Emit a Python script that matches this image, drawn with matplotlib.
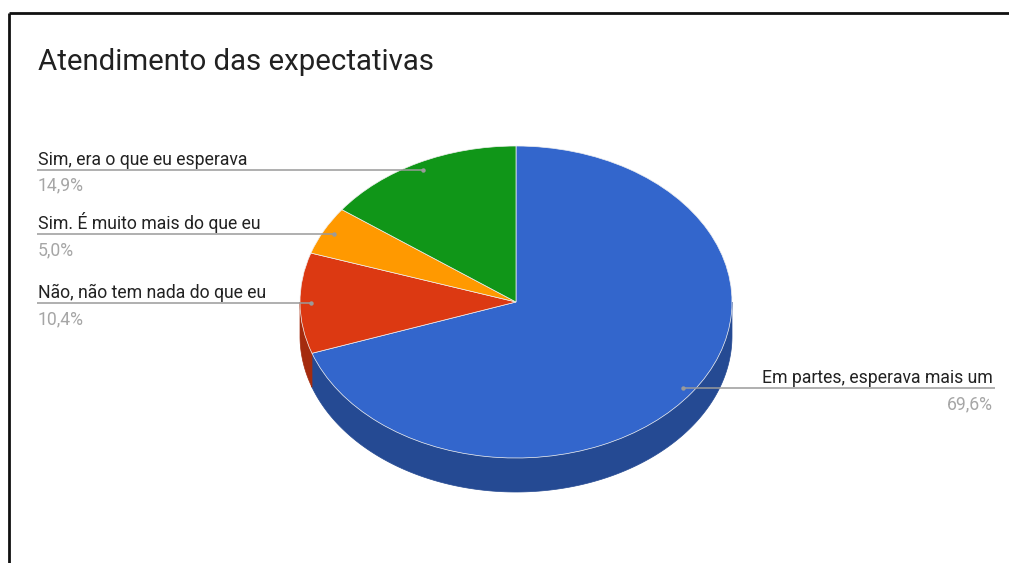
import numpy as np
import matplotlib
matplotlib.use("Agg")
import matplotlib.pyplot as plt
from matplotlib.patches import Polygon

# Survey answers, clockwise from 12 o'clock
labels = [
    "Em partes, esperava mais um",
    "Não, não tem nada do que eu",
    "Sim. É muito mais do que eu",
    "Sim, era o que eu esperava",
]
shares = [69.6, 10.4, 5.0, 14.9]
pct_labels = ["69,6%", "10,4%", "5,0%", "14,9%"]
top_colors = ["#3366cc", "#dc3912", "#ff9900", "#109618"]
side_colors = ["#254a93", "#a42b0e", "#bf7300", "#0c7112"]
title = "Atendimento das expectativas"

W, H = 1009, 563
fig = plt.figure(figsize=(W / 100, H / 100), dpi=100)
fig.patch.set_facecolor("white")

# Ellipse geometry of the tilted pie (pixels, origin top-left)
CX, CY = 516, 302
RX, RY = 216, 156
DEPTH = 34
d = DEPTH / RY

xl = (-1.1, 1.1)
yl = (-1.4, 1.1)
left = CX + xl[0] * RX
width = (xl[1] - xl[0]) * RX
bottom = (H - CY) + yl[0] * RY
height = (yl[1] - yl[0]) * RY
ax = fig.add_axes([left / W, bottom / H, width / W, height / H])

fracs = np.array(shares) / sum(shares)
bounds = np.concatenate([[0], np.cumsum(fracs)]) * 360.0  # degrees clockwise from top

# Visible rim of each slice (front half of the disc)
for i, (a0, a1) in enumerate(zip(bounds[:-1], bounds[1:])):
    lo, hi = max(a0, 90.0), min(a1, 270.0)
    if hi > lo:
        t = np.radians(np.linspace(lo, hi, 200))
        xs, ys = np.sin(t), np.cos(t)
        poly = np.column_stack([np.r_[xs, xs[::-1]], np.r_[ys, ys[::-1] - d]])
        ax.add_patch(Polygon(poly, closed=True, facecolor=side_colors[i],
                             edgecolor=side_colors[i], linewidth=0.5))

ax.pie(shares, colors=top_colors, startangle=90, counterclock=False,
       radius=1.0, center=(0, 0),
       wedgeprops=dict(edgecolor="#f0f0f0", linewidth=0.5))
ax.set_aspect("auto")
ax.set_xlim(xl)
ax.set_ylim(yl)
ax.axis("off")

# Overlay in pixel coordinates for labels, leaders and frame
ov = fig.add_axes([0, 0, 1, 1], zorder=5)
ov.set_xlim(0, W)
ov.set_ylim(H, 0)
ov.axis("off")
ov.patch.set_alpha(0)

FONT = "Roboto"
ov.text(38, 70, title, fontsize=21.2, family=FONT, color="#212121", va="baseline", ha="left")

mids = (bounds[:-1] + bounds[1:]) / 2
for i, m in enumerate(mids):
    mr = np.radians(m)
    px = CX + 0.95 * RX * np.sin(mr)
    py = CY - 0.95 * RY * np.cos(mr)
    if px < CX:
        x0, x1, tx, ha = 37, px, 38, "left"
    else:
        x0, x1, tx, ha = px, 995, 993, "right"
    ov.plot([x0, x1], [py, py], color="#9a9a9a", lw=1.1, solid_capstyle="butt")
    ov.plot([px], [py], "o", color="#9a9a9a", ms=3.2, mec="none")
    ov.text(tx, py - 5, labels[i], fontsize=12.7, family=FONT, color="#222222",
            ha=ha, va="baseline")
    ov.text(tx, py + 21, pct_labels[i], fontsize=12.7, family=FONT, color="#a6a6a6",
            ha=ha, va="baseline")

# Frame: top and left edges
ov.plot([8.5, W], [12.5, 12.5], color="#111111", lw=2.0, solid_capstyle="butt")
ov.plot([9, 9], [12.5, H], color="#111111", lw=2.0, solid_capstyle="butt")

fig.savefig("out.png", dpi=100, facecolor="white")
